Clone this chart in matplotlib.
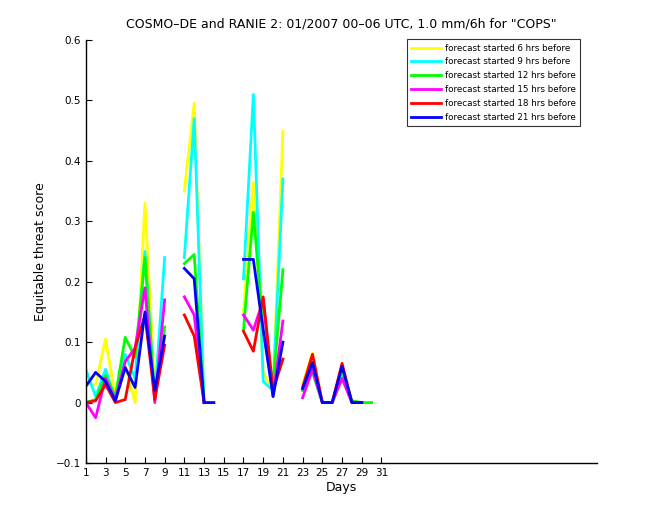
import numpy as np
import matplotlib
matplotlib.use("Agg")
import matplotlib.pyplot as plt

nan = np.nan
days = list(range(1, 32))

# values per day 1..31 (NaN = no data)
yellow = [0.03, 0.03, 0.105, 0.01, 0.06, 0.0, 0.33, 0.02, 0.11, nan,
          0.35, 0.495, 0.0, nan, nan, nan, 0.15, 0.364, 0.05, 0.02,
          0.449, nan, 0.03, 0.082, 0.0, 0.0, 0.06, 0.0, 0.0, nan, nan]
cyan = [0.055, 0.01, 0.055, 0.005, 0.08, 0.04, 0.25, 0.01, 0.24, nan,
        0.24, 0.47, 0.0, nan, nan, nan, 0.205, 0.51, 0.035, 0.02,
        0.37, nan, 0.02, 0.06, 0.0, 0.0, 0.045, 0.0, 0.0, nan, nan]
green = [0.0, 0.005, 0.045, 0.01, 0.108, 0.075, 0.24, 0.005, 0.125, nan,
         0.23, 0.245, 0.0, nan, nan, nan, 0.12, 0.315, 0.12, 0.03,
         0.22, nan, 0.02, 0.05, 0.0, 0.0, 0.055, 0.003, 0.0, 0.0, nan]
magenta = [0.0, -0.025, 0.04, 0.005, 0.068, 0.09, 0.19, 0.0, 0.17, nan,
           0.175, 0.145, 0.0, nan, nan, nan, 0.145, 0.12, 0.17, 0.01,
           0.135, nan, 0.008, 0.055, 0.0, 0.0, 0.04, 0.0, 0.0, nan, nan]
red = [0.0, 0.003, 0.03, 0.0, 0.005, 0.09, 0.145, 0.005, 0.095, nan,
       0.145, 0.11, 0.0, nan, nan, nan, 0.118, 0.085, 0.175, 0.02,
       0.072, nan, 0.025, 0.08, 0.0, 0.0, 0.065, 0.0, 0.0, nan, nan]
blue = [0.027, 0.05, 0.035, 0.003, 0.058, 0.025, 0.15, 0.02, 0.11, nan,
        0.222, 0.205, 0.0, 0.0, nan, nan, 0.237, 0.237, 0.12, 0.01,
        0.1, nan, 0.023, 0.066, 0.0, 0.0, 0.06, 0.0, 0.0, nan, nan]

series = [
    ("forecast started 6 hrs before", yellow, (1, 1, 0)),
    ("forecast started 9 hrs before", cyan, (0, 1, 1)),
    ("forecast started 12 hrs before", green, (0, 1, 0)),
    ("forecast started 15 hrs before", magenta, (1, 0, 1)),
    ("forecast started 18 hrs before", red, (1, 0, 0)),
    ("forecast started 21 hrs before", blue, (0, 0, 1)),
]

xticks = list(range(1, 32, 2))
yticks = [-0.1, 0.0, 0.1, 0.2, 0.3, 0.4, 0.5, 0.6]
yticklabels = ["\u22120.1", "0", "0.1", "0.2", "0.3", "0.4", "0.5", "0.6"]

fig = plt.figure(figsize=(6.6, 5.2), dpi=100)
ax = fig.add_axes([0.130, 0.1096, 0.775, 0.8134])

for label, vals, col in series:
    ax.plot(days, vals, color=col, lw=2.0, label=label)

ax.set_xlim(1, 52.9)
ax.set_ylim(-0.1, 0.6)
ax.set_xticks(xticks)
ax.set_xticklabels([str(t) for t in xticks])
ax.set_yticks(yticks)
ax.set_yticklabels(yticklabels)
ax.tick_params(direction="in", length=4, labelsize=7.5, width=0.8)
ax.spines["top"].set_visible(False)
ax.spines["right"].set_visible(False)
ax.spines["left"].set_linewidth(1.0)
ax.spines["bottom"].set_linewidth(1.0)

ax.set_xlabel("Days", fontsize=9, labelpad=2)
ax.set_ylabel("Equitable threat score", fontsize=9, labelpad=6)
ax.set_title('COSMO\u2013DE and RANIE 2: 01/2007 00\u201306 UTC, 1.0 mm/6h for "COPS"',
             fontsize=9, pad=9)

leg = ax.legend(loc="upper right", bbox_to_anchor=(0.967, 1.003), fontsize=6.3,
                frameon=True, fancybox=False, handlelength=3.4,
                borderpad=0.55, labelspacing=0.55, handletextpad=0.4,
                borderaxespad=0.0)
leg.get_frame().set_edgecolor("black")
leg.get_frame().set_linewidth(0.8)

fig.savefig("out.png", dpi=100)
